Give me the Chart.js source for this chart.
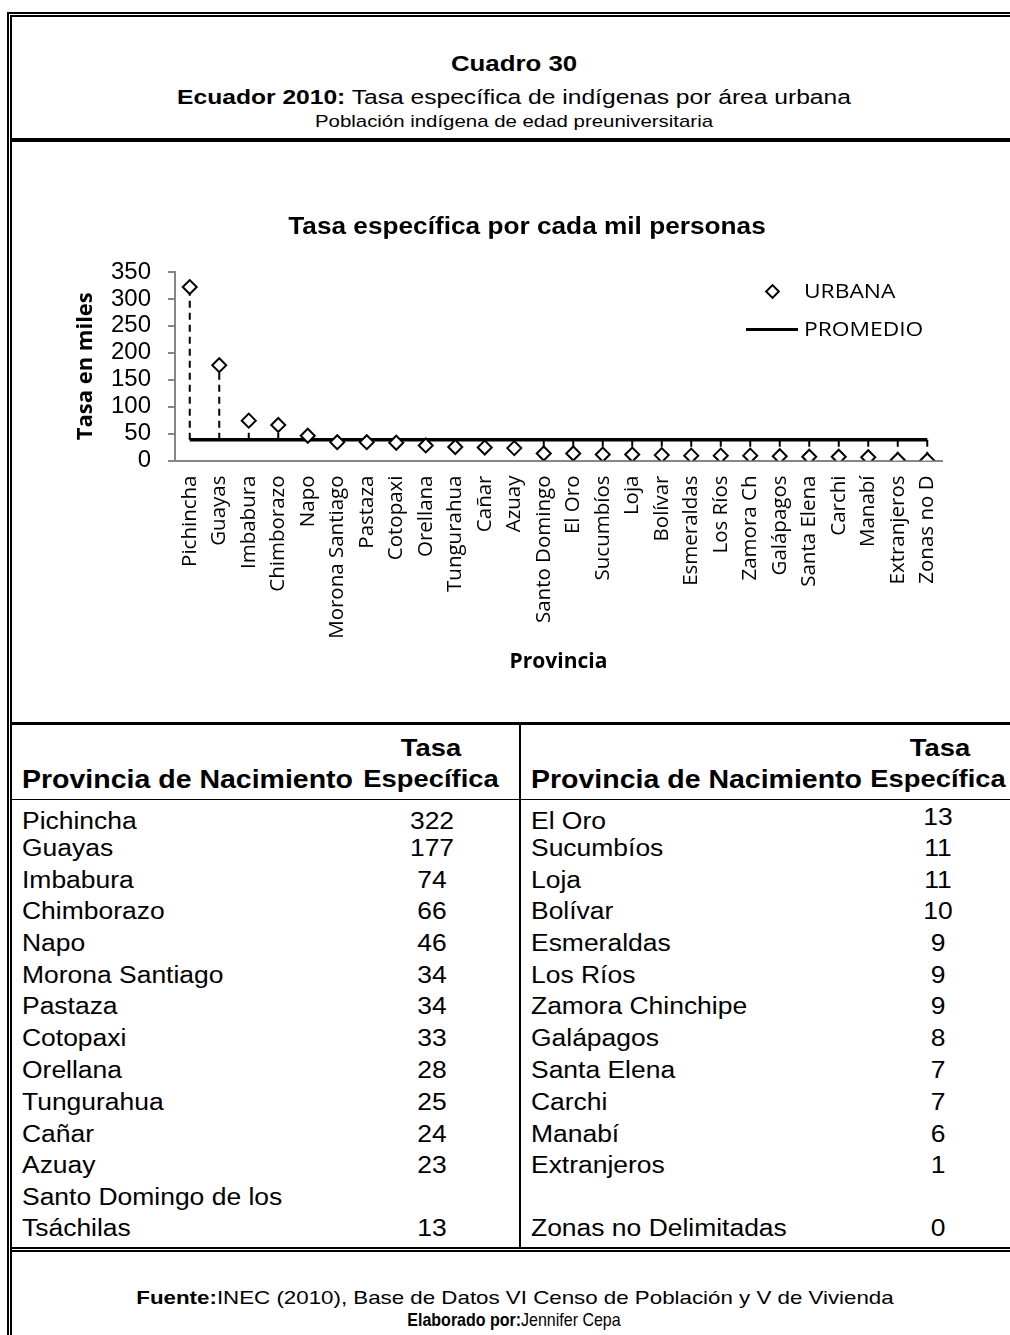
<!DOCTYPE html>
<html lang="es">
<head>
<meta charset="utf-8">
<title>Cuadro 30</title>
<script src="https://cdn.jsdelivr.net/npm/chart.js@4.4.1/dist/chart.umd.min.js"></script>
<style>
  html, body { margin: 0; padding: 0; background: #fff; }
  #page { position: relative; width: 1010px; height: 1335px; overflow: hidden;
          font-family: "Liberation Sans", Arial, sans-serif; color: #000; }
  .ln { position: absolute; background: #000; }
  .t { position: absolute; white-space: nowrap; line-height: 1;
       transform-origin: 0 50%; transform: translateY(-50%) scaleX(var(--sx, 1.14)); }
  .t.c { transform-origin: 50% 50%; transform: translate(-50%, -50%) scaleX(var(--sx, 1.14)); }
  .b { font-weight: bold; }
  .tab { --sx: 1.15; }
  .enc { --sx: 1.2; }
  #chartBox { position: absolute; left: 0; top: 142px; width: 1010px; height: 580px; }
  .leg { font-family: "Open Sans", sans-serif; font-size: 20px; }
</style>
</head>
<body>
<div id="page">
  <div id="chartBox"><canvas id="grafico" width="1010" height="580"></canvas></div>

  <!-- marco -->
  <div class="ln" style="left:7px;top:12px;width:1003px;height:2px"></div>
  <div class="ln" style="left:10px;top:15px;width:1000px;height:2px"></div>
  <div class="ln" style="left:7px;top:12px;width:2px;height:1323px"></div>
  <div class="ln" style="left:10px;top:15px;width:2px;height:1320px"></div>
  <div class="ln" style="left:10px;top:138px;width:1000px;height:4px"></div>
  <div class="ln" style="left:10px;top:722px;width:1000px;height:3px"></div>
  <div class="ln" style="left:10px;top:799px;width:1000px;height:1px"></div>
  <div class="ln" style="left:519px;top:725px;width:2px;height:522px"></div>
  <div class="ln" style="left:10px;top:1247px;width:1000px;height:2px"></div>
  <div class="ln" style="left:10px;top:1250px;width:1000px;height:2px"></div>

  <!-- encabezado -->
  <div class="t c b enc" style="left:514px;top:65px;font-size:21.5px">Cuadro 30</div>
  <div class="t c enc" style="left:514px;top:97px;font-size:20.5px"><b>Ecuador 2010:</b> Tasa específica de indígenas por área urbana</div>
  <div class="t c enc" style="left:514px;top:121px;font-size:17px">Población indígena de edad preuniversitaria</div>

  <div class="t c b" style="left:527px;top:226px;font-size:23px">Tasa específica por cada mil personas</div>

  <!-- leyenda -->
  <div style="position:absolute;left:767px;top:286px;width:7px;height:7px;border:2px solid #000;transform:rotate(45deg);background:#fff"></div>
  <div class="t leg" style="left:804px;top:291px">URBANA</div>
  <div class="ln" style="left:746px;top:328px;width:52px;height:3px"></div>
  <div class="t leg" style="left:804px;top:329px">PROMEDIO</div>

  <!-- tabla -->
  <div class="t b" style="left:22px;top:779px;font-size:25px">Provincia de Nacimiento</div>
  <div class="t c b" style="left:431px;top:748px;font-size:24px">Tasa</div>
  <div class="t c b" style="left:431px;top:779px;font-size:24px">Específica</div>
  <div class="t b" style="left:531px;top:779px;font-size:25px">Provincia de Nacimiento</div>
  <div class="t c b" style="left:940px;top:748px;font-size:24px">Tasa</div>
  <div class="t c b" style="left:938px;top:779px;font-size:24px">Específica</div>
  <div id="filas"></div>

  <!-- pie -->
  <div class="t c enc" style="left:515px;top:1298px;font-size:18.6px"><b>Fuente:</b>INEC (2010), Base de Datos VI Censo de Población y V de Vivienda</div>
  <div class="t c" style="left:514px;top:1320px;font-size:18.6px;--sx:0.86"><b>Elaborado por:</b>Jennifer Cepa</div>
</div>

<script>
// datos del cuadro
const provincias = ['Pichincha', 'Guayas', 'Imbabura', 'Chimborazo', 'Napo', 'Morona Santiago', 'Pastaza',
  'Cotopaxi', 'Orellana', 'Tungurahua', 'Cañar', 'Azuay', 'Santo Domingo', 'El Oro', 'Sucumbíos', 'Loja',
  'Bolívar', 'Esmeraldas', 'Los Ríos', 'Zamora Ch', 'Galápagos', 'Santa Elena', 'Carchi', 'Manabí',
  'Extranjeros', 'Zonas no D'];
const nombresTabla = ['Pichincha', 'Guayas', 'Imbabura', 'Chimborazo', 'Napo', 'Morona Santiago', 'Pastaza',
  'Cotopaxi', 'Orellana', 'Tungurahua', 'Cañar', 'Azuay', 'Santo Domingo de los\nTsáchilas', 'El Oro',
  'Sucumbíos', 'Loja', 'Bolívar', 'Esmeraldas', 'Los Ríos', 'Zamora Chinchipe', 'Galápagos', 'Santa Elena',
  'Carchi', 'Manabí', 'Extranjeros', 'Zonas no Delimitadas'];
const urbana = [322, 177, 74, 66, 46, 34, 34, 33, 28, 25, 24, 23, 13, 13, 11, 11, 10, 9, 9, 9, 8, 7, 7, 6, 1, 0];
const promedioValor = 38.5;
const yTicks = [0, 50, 100, 150, 200, 250, 300, 350];

// filas de la tabla (13 por columna)
const filaY = [821, 848, 880, 911, 943, 975, 1006, 1038, 1070, 1102, 1134, 1165, 1228];
const filas = document.getElementById('filas');
function texto(str, x, y, centrado) {
  const d = document.createElement('div');
  d.className = centrado ? 't c tab' : 't tab';
  d.style.left = x + 'px';
  d.style.top = y + 'px';
  d.style.fontSize = '23px';
  d.textContent = str;
  filas.appendChild(d);
}
nombresTabla.forEach((nombre, i) => {
  const col = i < 13 ? 0 : 1;
  const y = filaY[i % 13];
  const partes = nombre.split('\n');
  partes.forEach((p, k) => texto(p, col ? 531 : 22, y - (partes.length - 1 - k) * 31, false));
  texto(String(urbana[i]), col ? 938 : 432, (i === 13 ? y - 4 : y), true);
});

// lineas alto-bajo entre URBANA y PROMEDIO
const lineasAltoBajo = {
  id: 'lineasAltoBajo',
  beforeDatasetsDraw(chart) {
    const a = chart.getDatasetMeta(0).data;
    const b = chart.getDatasetMeta(1).data;
    const ctx = chart.ctx;
    ctx.save();
    ctx.strokeStyle = '#000';
    ctx.lineWidth = 2;
    ctx.setLineDash([7, 5]);
    a.forEach((p, i) => {
      ctx.beginPath();
      ctx.moveTo(p.x, b[i].y);
      ctx.lineTo(p.x, p.y);
      ctx.stroke();
    });
    ctx.restore();
  }
};

new Chart(document.getElementById('grafico'), {
  type: 'line',
  data: {
    labels: provincias,
    datasets: [
      {
        label: 'URBANA',
        data: urbana,
        showLine: false,
        pointStyle: 'rectRot',
        pointRadius: 7,
        pointBorderWidth: 2,
        pointBorderColor: '#000',
        pointBackgroundColor: '#fff'
      },
      {
        label: 'PROMEDIO',
        data: provincias.map(() => promedioValor),
        borderColor: '#000',
        borderWidth: 3.5,
        pointRadius: 0,
        tension: 0
      }
    ]
  },
  options: {
    responsive: false,
    animation: false,
    devicePixelRatio: 1,
    layout: { padding: { top: 130, right: 68, bottom: 0, left: 0 } },
    plugins: {
      legend: { display: false },
      tooltip: { enabled: false }
    },
    scales: {
      x: {
        offset: true,
        afterFit(scale) { scale.height = 261.5; },
        border: { color: '#868686', width: 2 },
        grid: { display: false, drawTicks: false },
        ticks: {
          autoSkip: false, maxRotation: 90, minRotation: 90, padding: 15,
          font: { family: 'Open Sans', size: 20.5 }, color: '#000'
        },
        title: {
          display: true, text: 'Provincia', color: '#000',
          font: { family: 'Open Sans', size: 21, weight: 'bold' },
          padding: { top: 0, bottom: 47 }
        }
      },
      y: {
        min: 0,
        max: 350,
        afterBuildTicks(scale) { scale.ticks = yTicks.map(v => ({ value: v })); },
        afterFit(scale) { scale.width = 175; },
        border: { color: '#868686', width: 2 },
        grid: { drawOnChartArea: false, drawTicks: true, tickLength: 7, color: '#868686', lineWidth: 2 },
        ticks: { autoSkip: false, font: { family: 'Liberation Sans', size: 24 }, color: '#000', padding: 17 },
        title: {
          display: true, text: 'Tasa en miles', color: '#000',
          font: { family: 'Open Sans', size: 22, weight: 'bold' },
          padding: { top: 73, bottom: 0 }
        }
      }
    }
  },
  plugins: [lineasAltoBajo]
});
</script>
</body>
</html>
